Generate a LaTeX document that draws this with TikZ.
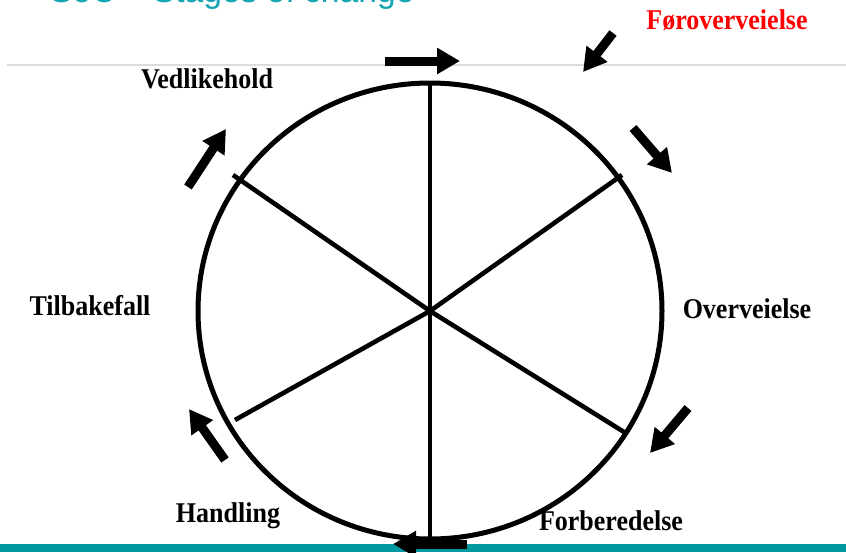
\documentclass[tikz,border=0pt]{standalone}
\usepackage{fontspec}
\setmainfont{Liberation Serif}
\setsansfont{Liberation Sans}
\usetikzlibrary{arrows.meta}
\definecolor{titleteal}{RGB}{20,165,180}
\definecolor{barteal}{RGB}{0,153,160}
\definecolor{rulegrey}{RGB}{220,220,220}
\newcommand{\stagetext}[1]{\scalebox{1}[1.1]{#1}}
\tikzset{
  blockarrow/.style={line width=9pt,-{Triangle[length=23pt,width=25pt]}},
  stage/.style={font=\fontsize{26}{28}\selectfont\bfseries,inner sep=0pt},
  wheel/.style={line width=5pt},
  spoke/.style={line width=4.6pt}
}
\begin{document}
\begin{tikzpicture}[x=1pt,y=-1pt]
\useasboundingbox (0,0) rectangle (846,552);
% title (cut at top edge)
\begin{scope}
\clip (0,0) rectangle (846,552);
\node[anchor=base west,inner sep=0pt,text=titleteal,font=\sffamily\fontsize{33.6}{36}\selectfont] (title) at (50,2.5) {SoC -- Stages of change};
\end{scope}
% grey rule
\draw[rulegrey,line width=1.5pt] (7,65) -- (846,65);
% bottom bar
\fill[barteal] (0,544) rectangle (846,552);
% wheel
\coordinate (c) at (430,311);
\draw[wheel] (c) ellipse [x radius=232,y radius=228];
\coordinate (top) at (430,85);
\coordinate (bot) at (430,540);
\coordinate (ul) at (233,175);
\coordinate (ur) at (622,175);
\coordinate (ll) at (235,420);
\coordinate (lr) at (624,432);
\draw[spoke] (top) -- (bot);
\draw[spoke] (ul) -- (c) -- (lr);
\draw[spoke] (ur) -- (c) -- (ll);
% arrows
\coordinate (a1s) at (385,61); \coordinate (a1e) at (460,61);
\coordinate (a2s) at (613,33); \coordinate (a2e) at (583,72);
\coordinate (a3s) at (633,128); \coordinate (a3e) at (672,173);
\coordinate (a4s) at (688,408); \coordinate (a4e) at (650,453);
\coordinate (a5s) at (467,544); \coordinate (a5e) at (393,544);
\coordinate (a6s) at (225,460); \coordinate (a6e) at (189,409);
\coordinate (a7s) at (188,187); \coordinate (a7e) at (226,129);
\foreach \i in {1,...,7} \draw[blockarrow] (a\i s) -- (a\i e);
% labels
\node[stage] (vedl) at (207,79) {\stagetext{Vedlikehold}};
\node[stage,text=red] (forov) at (727,20) {\stagetext{Føroverveielse}};
\node[stage] (overv) at (747,309) {\stagetext{Overveielse}};
\node[stage] (tilb) at (90,306) {\stagetext{Tilbakefall}};
\node[stage] (hand) at (228,516) {\stagetext{Handling}};
\node[stage] (forb) at (611,521) {\stagetext{Forberedelse}};
\end{tikzpicture}
\end{document}
